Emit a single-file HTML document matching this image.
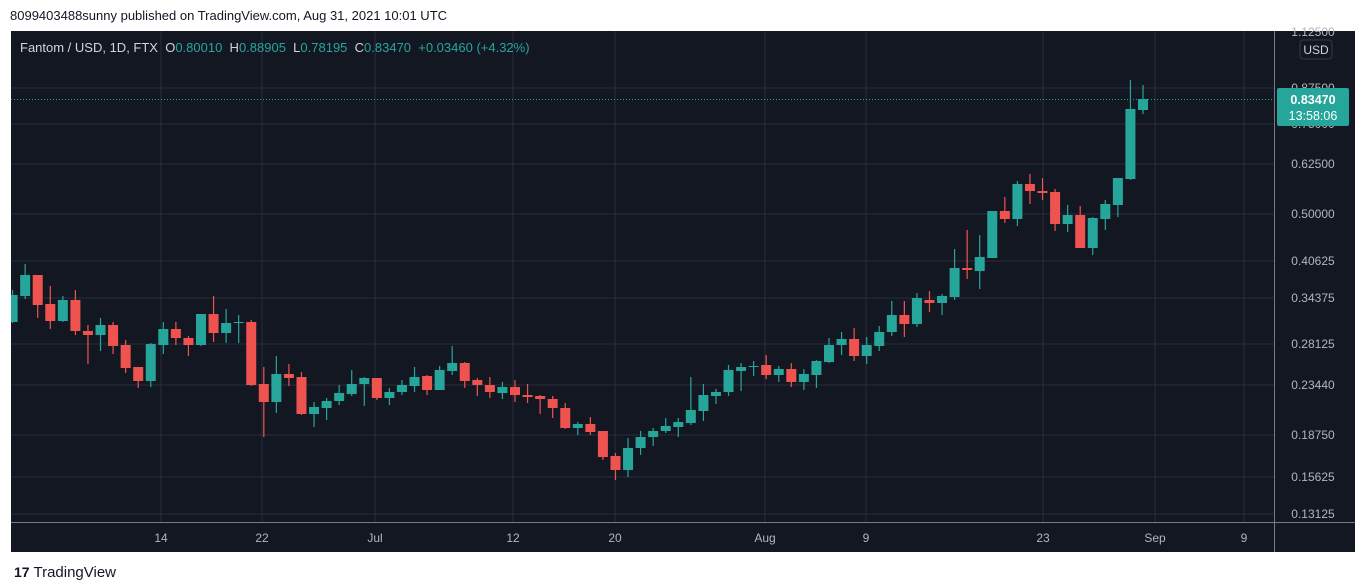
<!DOCTYPE html>
<html><head><meta charset="utf-8"><style>
body{margin:0;width:1363px;height:587px;background:#fff;font-family:"Liberation Sans",sans-serif;position:relative;overflow:hidden}
.t{position:absolute;white-space:nowrap}
</style></head><body>
<div class="t" style="left:10px;top:8px;font-size:13px;color:#131722">8099403488sunny published on TradingView.com, Aug 31, 2021 10:01 UTC</div>
<svg id="s" width="1363" height="587" style="position:absolute;left:0;top:0" xmlns="http://www.w3.org/2000/svg"></svg>
<div class="t" style="left:14px;top:564px;font-size:15px;color:#131722"><b style="font-size:14px">17</b> TradingView</div>
<script>
const s=document.getElementById('s');let h='';
h+='<rect x="11" y="31" width="1344" height="521" fill="#131722"/>';
const gy=[[88,'0.87500'],[124,'0.75000'],[164,'0.62500'],[214,'0.50000'],[261,'0.40625'],[298,'0.34375'],[344,'0.28125'],[385,'0.23440'],[435,'0.18750'],[477,'0.15625'],[514,'0.13125']];
gy.forEach(g=>h+=`<line x1="11" x2="1274" y1="${g[0]}" y2="${g[0]}" stroke="#2a2e39"/>`);
const gx=[[161,'14'],[262,'22'],[375,'Jul'],[513,'12'],[615,'20'],[765,'Aug'],[866,'9'],[1043,'23'],[1155,'Sep'],[1244,'9']];
gx.forEach(g=>h+=`<line x1="${g[0]}" x2="${g[0]}" y1="31" y2="522" stroke="#2a2e39"/>`);
h+='<line x1="1274.5" x2="1274.5" y1="31" y2="552" stroke="#787b86"/><line x1="11" x2="1355" y1="522.5" y2="522.5" stroke="#787b86"/>';
gx.forEach(g=>h+=`<text x="${g[0]}" y="542" fill="#b2b5be" font-size="12" text-anchor="middle" font-family="Liberation Sans">${g[1]}</text>`);
gy.forEach(g=>h+=`<text x="1313" y="${g[0]+4}" fill="#b2b5be" font-size="12" text-anchor="middle" font-family="Liberation Sans">${g[1]}</text>`);
h+='<text x="1313" y="36" fill="#b2b5be" font-size="12" text-anchor="middle" font-family="Liberation Sans">1.12500</text>';
h+='<rect x="1300" y="40" width="32" height="19" rx="3" fill="#131722" stroke="#363a45"/><text x="1316" y="54" fill="#d1d4dc" font-size="12" text-anchor="middle" font-family="Liberation Sans">USD</text>';
const c=[[322,295,290,323],[296,275,264,299],[275,305,275,318],[304,321,286,329],[321,300,296,322],[300,331,290,335],[331,335,325,364],[335,325,318,351],[325,346,322,354],[345,368,340,373],[367,381,367,388],[381,344,343,387],[345,329,322,354],[329,338,322,345],[338,345,336,356],[345,314,314,346],[314,333,296,342],[333,323,309,343],[323,322,315,343],[322,385,320,386],[384,402,367,437],[402,374,356,413],[374,378,364,386],[377,414,372,415],[414,407,402,427],[408,401,398,420],[401,393,385,405],[394,384,370,396],[384,378,377,406],[378,398,378,400],[398,392,388,405],[392,385,380,395],[386,377,367,392],[376,390,375,395],[390,370,366,390],[371,363,346,375],[363,381,362,388],[380,385,378,396],[385,392,377,398],[393,387,382,399],[387,395,380,402],[395,397,384,403],[396,399,395,414],[399,408,396,418],[408,428,403,429],[428,424,422,435],[424,432,417,435],[431,457,431,460],[456,470,453,480],[470,448,438,477],[448,437,431,455],
[437,431,428,446],[431,426,418,433],[427,422,418,437],[423,410,377,425],[411,395,384,421],[396,392,389,404],[392,370,365,396],[371,367,363,391],[367,366,361,376],[365,375,355,379],[375,369,366,382],[369,382,363,387],[382,374,369,390],[375,361,360,388],[362,345,338,363],[345,339,332,355],[339,356,328,361],[356,345,337,364],[346,332,326,351],[332,315,301,336],[315,324,301,337],[324,298,293,327],[300,303,291,312],[303,296,294,315],
[297,268,249,300],[268,270,230,279],[271,257,235,289],[258,211,211,258],[211,219,197,223],[219,184,181,226],[184,191,174,204],[191,193,178,200],[192,224,189,231],[224,215,205,232],[215,248,206,248],[248,218,217,255],[219,204,200,230],[205,178,178,217],[179,109,80,180],[110,99,85,114]];
const N=c.length;
c.forEach((d,i)=>{const x=1143-12.56*(N-1-i);const up=d[1]<d[0];const col=up?'#26a69a':'#ef5350';
const top=Math.min(d[0],d[1]),bh=Math.max(1,Math.abs(d[0]-d[1]));
h+=`<line x1="${x}" x2="${x}" y1="${d[2]}" y2="${d[3]}" stroke="${col}" stroke-width="1.2"/>`;
const l=Math.max(11,x-5);h+=`<rect x="${l}" y="${top}" width="${x+5-l}" height="${bh}" fill="${col}"/>`;});
h+='<line x1="11" x2="1274" y1="99.5" y2="99.5" stroke="#26a69a" stroke-dasharray="1,2"/>';
h+='<rect x="1277" y="88" width="72" height="38" rx="2" fill="#26a69a"/><text x="1313" y="104" fill="#fff" font-size="12.5" font-weight="bold" text-anchor="middle" font-family="Liberation Sans">0.83470</text><text x="1313" y="120" fill="#fff" font-size="12.5" text-anchor="middle" font-family="Liberation Sans">13:58:06</text>';
h+='<text x="20" y="52" font-size="13" font-family="Liberation Sans" fill="#d1d4dc" style="white-space:pre" xml:space="preserve">Fantom / USD, 1D, FTX  O<tspan fill="#26a69a">0.80010</tspan>  H<tspan fill="#26a69a">0.88905</tspan>  L<tspan fill="#26a69a">0.78195</tspan>  C<tspan fill="#26a69a">0.83470  +0.03460 (+4.32%)</tspan></text>';
s.innerHTML=h;
</script>
</body></html>
